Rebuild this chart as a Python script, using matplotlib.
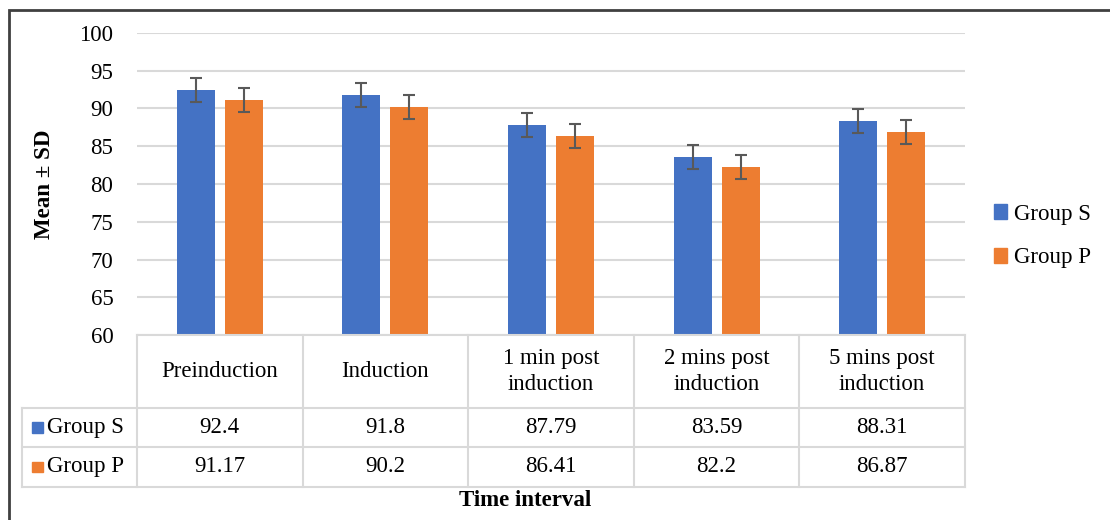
import numpy as np
import matplotlib
matplotlib.use("Agg")
import matplotlib.pyplot as plt
from matplotlib.patches import Rectangle
from matplotlib.lines import Line2D

plt.rcParams['font.family'] = ['Liberation Serif', 'DejaVu Serif']

categories = ["Preinduction", "Induction", "1 min post\ninduction",
              "2 mins post\ninduction", "5 mins post\ninduction"]
group_s = [92.4, 91.8, 87.79, 83.59, 88.31]
group_p = [91.17, 90.2, 86.41, 82.2, 86.87]
group_s_sd = [1.6, 1.6, 1.6, 1.6, 1.6]
group_p_sd = [1.6, 1.6, 1.6, 1.6, 1.6]
series_names = ["Group S", "Group P"]
yticks = [60, 65, 70, 75, 80, 85, 90, 95, 100]

blue = "#4472C4"
orange = "#ED7D31"
grid_c = "#D9D9D9"
fs = 16.5

fig = plt.figure(figsize=(11.1, 5.2), dpi=100)
W, H = 1110, 520
ax = fig.add_axes([137 / W, 1 - 335 / H, (965 - 137) / W, (335 - 33) / H])

x = np.arange(len(categories))
bw = 0.23
off = 0.145
ax.bar(x - off, [v - 60 for v in group_s], bw, bottom=60, color=blue, zorder=2)
ax.bar(x + off, [v - 60 for v in group_p], bw, bottom=60, color=orange, zorder=2)
ax.errorbar(x - off, group_s, yerr=group_s_sd, fmt='none', ecolor="#595959",
            elinewidth=1.5, capsize=4.5, capthick=1.5, zorder=3)
ax.errorbar(x + off, group_p, yerr=group_p_sd, fmt='none', ecolor="#595959",
            elinewidth=1.5, capsize=4.5, capthick=1.5, zorder=3)

ax.set_xlim(-0.5, len(categories) - 0.5)
ax.set_ylim(60, 100)
ax.set_yticks(yticks)
ax.set_yticklabels([str(t) for t in yticks], fontsize=fs)
ax.set_xticks([])
ax.tick_params(axis='y', length=0, pad=17)
ax.yaxis.grid(True, color=grid_c, linewidth=1.5, zorder=0)
for s in ax.spines.values():
    s.set_visible(False)
ax.set_ylabel("Mean ± SD", fontsize=fs, fontweight='bold')
ax.yaxis.set_label_coords(-0.099, 0.5)

# data table below the plot
tr = ax.get_xaxis_transform()
row_y = [0.0, -0.2417, -0.371, -0.503]
left_x = -0.5 - 115 / 166
lkw = dict(color=grid_c, linewidth=1.5, transform=tr, clip_on=False)
ax.add_line(Line2D([-0.5, 4.5], [row_y[0], row_y[0]], **lkw))
for yy in row_y[1:]:
    ax.add_line(Line2D([left_x, 4.5], [yy, yy], **lkw))
ax.add_line(Line2D([left_x, left_x], [row_y[1], row_y[3]], **lkw))
for xv in np.arange(-0.5, len(categories), 1.0):
    ax.add_line(Line2D([xv, xv], [row_y[0], row_y[3]], **lkw))

for i, c in enumerate(categories):
    ax.text(i, (row_y[0] + row_y[1]) / 2, c, transform=tr, ha='center',
            va='center', fontsize=fs, linespacing=1.3)
for r, (vals, col, name) in enumerate(zip([group_s, group_p], [blue, orange], series_names)):
    yc = (row_y[r + 1] + row_y[r + 2]) / 2
    for i, v in enumerate(vals):
        ax.text(i, yc, str(v), transform=tr, ha='center', va='center', fontsize=fs)
    ax.add_patch(Rectangle((left_x + 0.06, yc - 0.018), 0.066, 0.036, color=col,
                           transform=tr, clip_on=False))
    ax.text(left_x + 0.15, yc, name, transform=tr, ha='left', va='center', fontsize=fs)

fig.text(525 / W, 1 - 500 / H, "Time interval", ha='center', va='center',
         fontsize=fs, fontweight='bold')

# legend
handles = [Rectangle((0, 0), 1, 1, color=blue), Rectangle((0, 0), 1, 1, color=orange)]
fig.legend(handles, series_names, loc='center left',
           bbox_to_anchor=(973 / W, 1 - 236 / H), frameon=False, fontsize=fs,
           handlelength=0.6, handleheight=0.6, handletextpad=0.3, labelspacing=1.0)

# outer frame
fig.add_artist(Rectangle((9 / W, -0.1), 1.2, 1 - 10 / H + 0.1, transform=fig.transFigure,
                         fill=False, edgecolor="#404040", linewidth=2))

fig.savefig("out.png", dpi=100)
